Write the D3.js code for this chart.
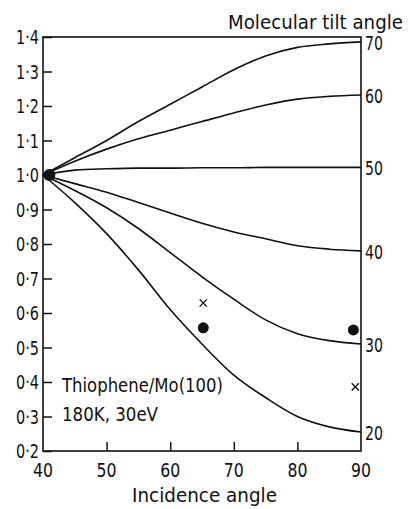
<!DOCTYPE html>
<html>
<head>
<meta charset="utf-8">
<script src="https://cdn.jsdelivr.net/npm/d3@7"></script>
<style>
    body { margin: 0; background: #fff; }
    svg text { font-family: "DejaVu Sans", sans-serif; fill: #111; }
</style>
</head>
<body>
<svg id="chart" width="410" height="509"></svg>
<script>
const angles = [40, 45, 50, 55, 60, 65, 70, 75, 80, 85, 90];

// one curve per molecular tilt angle (ratio vs incidence angle)
const tiltLabels = ["70", "60", "50", "40", "30", "20"];
const tilt70 = [1.0, 1.05, 1.10, 1.155, 1.205, 1.255, 1.305, 1.345, 1.370, 1.380, 1.386];
const tilt60 = [1.0, 1.04, 1.075, 1.105, 1.13, 1.155, 1.18, 1.203, 1.22, 1.228, 1.232];
const tilt50 = [1.0, 1.014, 1.018, 1.02, 1.02, 1.021, 1.021, 1.022, 1.022, 1.022, 1.022];
const tilt40 = [1.0, 0.975, 0.95, 0.92, 0.89, 0.86, 0.835, 0.815, 0.795, 0.785, 0.78];
const tilt30 = [1.0, 0.955, 0.905, 0.845, 0.775, 0.705, 0.64, 0.58, 0.54, 0.52, 0.51];
const tilt20 = [1.0, 0.92, 0.83, 0.725, 0.61, 0.51, 0.42, 0.355, 0.30, 0.27, 0.255];

// measured points
const startPoint = [41, 1.0];
const dotAngles = [65.2, 88.8];
const dotValues = [0.557, 0.551];
const crossAngles = [65.2, 89.1];
const crossValues = [0.629, 0.386];

const yTicks = [0.2, 0.3, 0.4, 0.5, 0.6, 0.7, 0.8, 0.9, 1.0, 1.1, 1.2, 1.3, 1.4];
const xTicks = [40, 50, 60, 70, 80, 90];

const svg = d3.select("#chart");
const x = d3.scaleLinear().domain([40, 90]).range([43, 361]);
const y = d3.scaleLinear().domain([0.2, 1.4]).range([451, 37]);

const fmt = v => v.toFixed(1).replace(".", "\u00b7");

// left axis: inward ticks, labels drawn separately
svg.append("g")
    .attr("transform", `translate(${x(40)},0)`)
    .call(d3.axisRight(y).tickValues(yTicks).tickSize(9).tickFormat(""))
    .call(g => g.select(".domain").remove())
    .selectAll("line").attr("stroke", "#111").attr("stroke-width", 1.5);

svg.append("g")
    .attr("transform", `translate(0,${y(0.2)})`)
    .call(d3.axisTop(x).tickValues([50, 60, 70, 80]).tickSize(9).tickFormat(""))
    .call(g => g.select(".domain").remove())
    .selectAll("line").attr("stroke", "#111").attr("stroke-width", 1.5);

// frame
svg.append("rect")
    .attr("x", x(40)).attr("y", y(1.4))
    .attr("width", x(90) - x(40)).attr("height", y(0.2) - y(1.4))
    .attr("fill", "none").attr("stroke", "#111").attr("stroke-width", 1.6);

svg.selectAll(".ylab")
    .data(yTicks)
    .join("text")
    .attr("class", "ylab")
    .attr("x", 39).attr("y", d => y(d) + 7)
    .attr("text-anchor", "end")
    .attr("font-size", 19)
    .attr("textLength", 23).attr("lengthAdjust", "spacingAndGlyphs")
    .text(fmt);

svg.selectAll(".xlab")
    .data(xTicks)
    .join("text")
    .attr("class", "xlab")
    .attr("x", d => x(d) - 10).attr("y", 477)
    .attr("font-size", 19)
    .attr("textLength", 20).attr("lengthAdjust", "spacingAndGlyphs")
    .text(d => d);

// curves
const series = [tilt70, tilt60, tilt50, tilt40, tilt30, tilt20];
const line = d3.line()
    .x((d, i) => x(angles[i]))
    .y(d => y(d))
    .curve(d3.curveMonotoneX);

svg.selectAll(".curve")
    .data(series)
    .join("path")
    .attr("class", "curve")
    .attr("d", line)
    .attr("fill", "none")
    .attr("stroke", "#111")
    .attr("stroke-width", 1.6);

// right-hand tilt labels sit at curve ends
svg.selectAll(".rlab")
    .data(series)
    .join("text")
    .attr("class", "rlab")
    .attr("x", 365).attr("y", d => y(d[d.length - 1]) + 8)
    .attr("font-size", 19)
    .attr("textLength", 18).attr("lengthAdjust", "spacingAndGlyphs")
    .text((d, i) => tiltLabels[i]);

svg.append("circle")
    .attr("cx", x(startPoint[0])).attr("cy", y(startPoint[1]))
    .attr("r", 6).attr("fill", "#111");

svg.selectAll(".dot")
    .data(dotAngles)
    .join("circle")
    .attr("class", "dot")
    .attr("cx", d => x(d)).attr("cy", (d, i) => y(dotValues[i]))
    .attr("r", 5.5).attr("fill", "#111");

const cross = d3.symbol().type(d3.symbolX).size(36);
svg.selectAll(".cross")
    .data(crossAngles)
    .join("path")
    .attr("class", "cross")
    .attr("transform", (d, i) => `translate(${x(d)},${y(crossValues[i])})`)
    .attr("d", cross)
    .attr("fill", "none")
    .attr("stroke", "#111")
    .attr("stroke-width", 1.4);

// titles and annotation
svg.append("text")
    .attr("x", 228).attr("y", 29)
    .attr("font-size", 19)
    .attr("textLength", 175).attr("lengthAdjust", "spacingAndGlyphs")
    .text("Molecular tilt angle");

svg.append("text")
    .attr("x", 132).attr("y", 502)
    .attr("font-size", 19)
    .attr("textLength", 145).attr("lengthAdjust", "spacingAndGlyphs")
    .text("Incidence angle");

svg.append("text")
    .attr("x", 62).attr("y", 392)
    .attr("font-size", 19)
    .attr("textLength", 161).attr("lengthAdjust", "spacingAndGlyphs")
    .text("Thiophene/Mo(100)");

svg.append("text")
    .attr("x", 62).attr("y", 421)
    .attr("font-size", 19)
    .attr("textLength", 96).attr("lengthAdjust", "spacingAndGlyphs")
    .text("180K, 30eV");
</script>
</body>
</html>
